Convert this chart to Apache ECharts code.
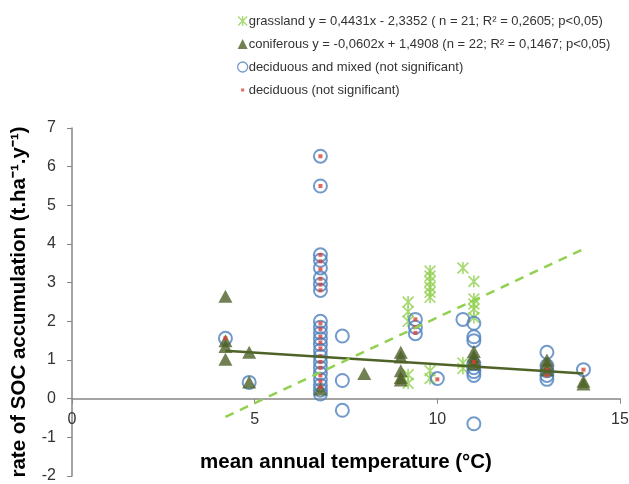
<!DOCTYPE html>
<html><head><meta charset="utf-8">
<script src="https://cdn.jsdelivr.net/npm/echarts@6/dist/echarts.min.js"></script>
<style>html,body{margin:0;padding:0;background:#fff}#c{width:629px;height:484px}</style>
</head><body><div id="c"></div>
<script>
// ---- data ----
const grassland = [
  [9.2,2.5],[9.2,2.25],[9.2,2.0],[9.2,0.62],[9.2,0.4],
  [9.8,3.3],[9.8,3.17],[9.8,3.03],[9.8,2.88],[9.8,2.75],[9.8,2.62],[9.8,0.72],[9.8,0.52],
  [10.7,3.38],[10.7,0.92],[10.7,0.78],
  [11.0,3.03],[11.0,2.58],[11.0,2.45],[11.0,2.32],[11.0,2.1]
];
const coniferous = [
  [4.2,2.65],[4.2,1.5],[4.2,1.35],[4.2,1.02],
  [4.85,1.2],[4.85,0.43],
  [6.8,0.25],
  [8.0,0.65],
  [9.0,1.2],[9.0,1.08],[9.0,0.72],[9.0,0.55],[9.0,0.48],
  [11.0,1.22],[11.0,1.1],[11.0,1.0],[11.0,0.9],
  [13.0,1.0],[13.0,0.9],[13.0,0.75],
  [14.0,0.45],[14.0,0.38]
];
const decidMixed = [
  [4.2,1.56],[4.85,0.42],
  [6.8,6.27],[6.8,5.5],[6.8,3.72],[6.8,3.58],[6.8,3.38],[6.8,3.12],[6.8,2.95],[6.8,2.8],
  [6.8,2.0],[6.8,1.85],[6.8,1.7],[6.8,1.55],[6.8,1.4],[6.8,1.25],[6.8,1.1],[6.8,0.95],
  [6.8,0.8],[6.8,0.65],[6.8,0.5],[6.8,0.35],[6.8,0.22],[6.8,0.12],
  [7.4,1.62],[7.4,0.47],[7.4,-0.3],
  [9.4,2.05],[9.4,1.85],[9.4,1.68],
  [10.0,0.52],
  [10.7,2.05],
  [11.0,1.95],[11.0,1.6],[11.0,1.5],[11.0,0.9],[11.0,0.8],[11.0,0.7],[11.0,0.6],[11.0,-0.65],
  [13.0,1.2],[13.0,0.85],[13.0,0.72],[13.0,0.6],[13.0,0.5],
  [14.0,0.75]
];
const deciduous = [
  [4.2,1.56],
  [6.8,6.27],[6.8,5.5],[6.8,3.72],[6.8,3.55],[6.8,3.35],[6.8,3.1],[6.8,2.95],[6.8,2.8],
  [6.8,1.95],[6.8,1.8],[6.8,1.6],[6.8,1.45],[6.8,1.3],[6.8,1.1],[6.8,0.95],[6.8,0.8],
  [6.8,0.6],[6.8,0.45],[6.8,0.3],
  [9.4,2.05],[9.4,1.85],[9.4,1.7],
  [10.0,0.5],
  [11.0,0.95],
  [13.0,0.75],[13.0,0.6],
  [14.0,0.75]
];
const coniferousTrend = [[4.2,1.24],[14.0,0.65]];
const grasslandTrend = [[4.2,-0.47],[14.0,3.87]];
const legendTexts = {
  grassland: 'grassland y = 0,4431x - 2,3352 ( n = 21; R\u00b2 = 0,2605; p<0,05)',
  coniferous: 'coniferous y = -0,0602x + 1,4908 (n = 22; R\u00b2 = 0,1467; p<0,05)',
  'deciduous and mixed': 'deciduous and mixed (not significant)',
  deciduous: 'deciduous (not significant)'
};
const xTitle = 'mean annual temperature (\u00b0C)';
const yTitle = 'rate of SOC accumulation (t.ha\u207b\u00b9.y\u207b\u00b9)';

// ---- style ----
const GREEN_L = '#92D050', GREEN_D = '#4F6228', BLUE = '#4F81BD', RED = '#D9413A';
const STAR = 'path://M4.3,0L5.7,0L5.7,10L4.3,10Z M0,1L1,0L10,9L9,10Z M9,0L10,1L1,10L0,9Z';
const SMALLSQ = 'path://M0,0L0.01,0Z M10,10L9.99,10Z M3.5,3.5L6.5,3.5L6.5,6.5L3.5,6.5Z';
const axisFont = {fontFamily:'Liberation Sans, Arial, sans-serif', fontSize:16, color:'#333'};
const titleFont = {fontFamily:'Liberation Sans, Arial, sans-serif', fontSize:20.5, fontWeight:'bold', color:'#000'};

const chart = echarts.init(document.getElementById('c'));
chart.setOption({
  animation:false,
  grid:{left:72, right:9, top:128, bottom:8, containLabel:false, outerBoundsMode:'none'},
  legend:{
    orient:'vertical', left:232, top:9, itemGap:9, itemWidth:10, itemHeight:10,
    textStyle:{fontFamily:'Liberation Sans, Arial, sans-serif', fontSize:13, color:'#333', lineHeight:14, padding:[0,0,0,-4]},
    formatter:n=>legendTexts[n],
    data:[
      {name:'grassland', icon:STAR, itemStyle:{color:GREEN_L}},
      {name:'coniferous', icon:'triangle', itemStyle:{color:GREEN_D}},
      {name:'deciduous and mixed', icon:'circle', itemStyle:{color:'rgba(0,0,0,0)', borderColor:BLUE, borderWidth:1.3}},
      {name:'deciduous', icon:SMALLSQ, itemStyle:{color:RED}}
    ]
  },
  xAxis:{
    type:'value', min:0, max:15, interval:5,
    axisLine:{onZero:true, lineStyle:{color:'#868686', width:1.5}},
    axisTick:{show:true, inside:false, length:5, lineStyle:{color:'#868686'}},
    splitLine:{show:false},
    axisLabel:{...axisFont, margin:-64},
    name:xTitle, nameLocation:'middle', nameGap:-24,
    nameTextStyle:titleFont
  },
  yAxis:{
    type:'value', min:-2, max:7, interval:1,
    axisLine:{show:true, onZero:false, lineStyle:{color:'#868686', width:1.5}},
    axisTick:{show:true, length:5, lineStyle:{color:'#868686'}},
    splitLine:{show:false},
    axisLabel:{...axisFont, margin:16},
    name:yTitle, nameLocation:'middle', nameGap:42, nameRotate:90,
    nameTextStyle:titleFont
  },
  series:[
    {name:'grassland', type:'scatter', data:grassland, symbol:STAR, symbolSize:12, z:2,
      itemStyle:{color:GREEN_L}},
    {name:'deciduous and mixed', type:'scatter', data:decidMixed, symbol:'circle', symbolSize:13, z:3,
      itemStyle:{color:'rgba(255,255,255,0)', borderColor:BLUE, borderWidth:2}},
    {name:'coniferous', type:'scatter', data:coniferous, symbol:'triangle', symbolSize:[14,13], z:4,
      itemStyle:{color:GREEN_D}},
    {name:'deciduous', type:'scatter', data:deciduous, symbol:'rect', symbolSize:4, z:5,
      itemStyle:{color:RED}},
    {name:'coniferousTrend', type:'line', data:coniferousTrend, symbol:'none', z:6,
      lineStyle:{color:GREEN_D, width:2.5}},
    {name:'grasslandTrend', type:'line', data:grasslandTrend, symbol:'none', z:6,
      lineStyle:{color:GREEN_L, width:2.5, type:[9,7]}}
  ]
});
</script></body></html>
